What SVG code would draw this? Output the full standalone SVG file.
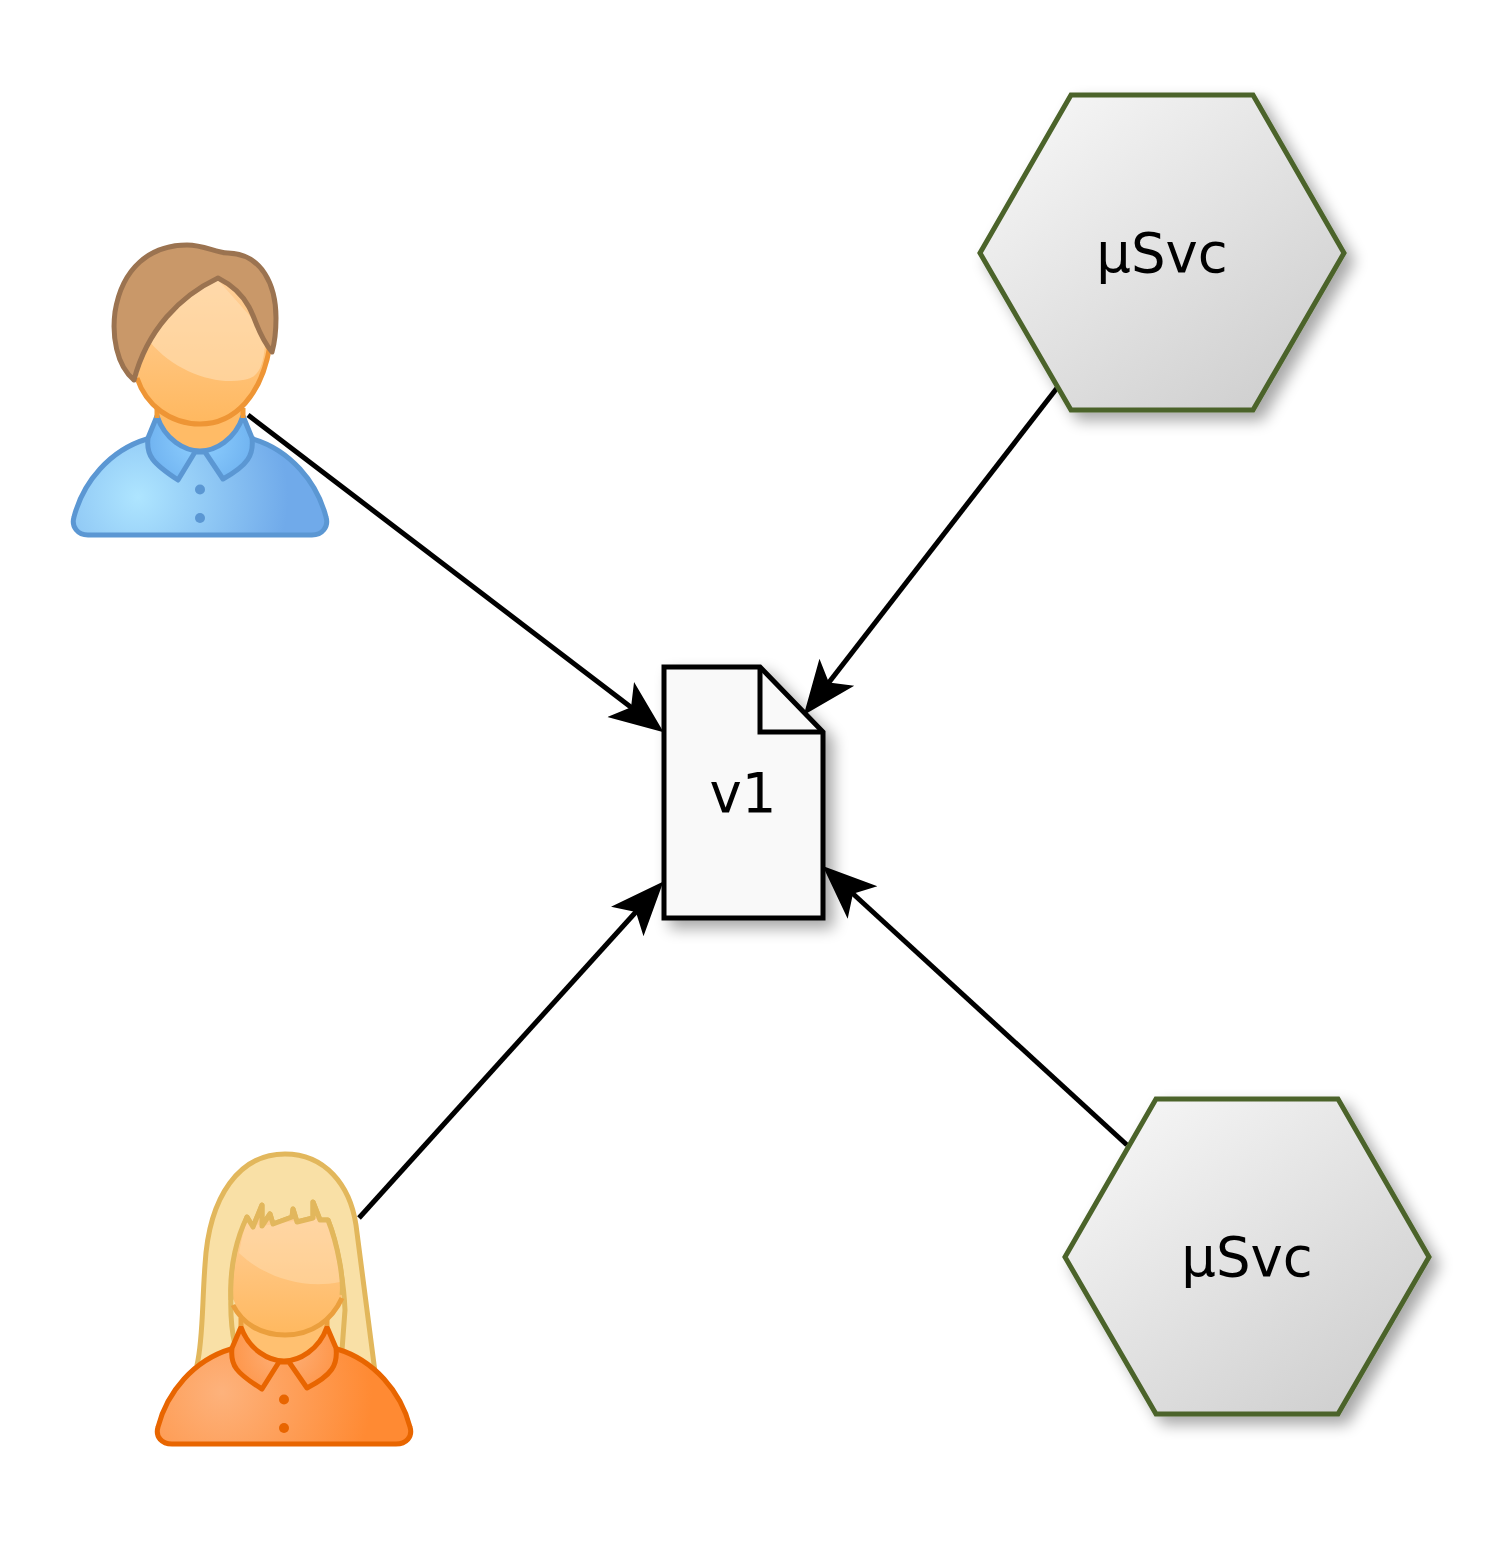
<svg xmlns="http://www.w3.org/2000/svg" width="1500" height="1554" viewBox="0 0 1500 1554">
<style>
text{font-family:"DejaVu Sans",sans-serif;font-size:54.500px;fill:#000;text-anchor:middle}
.hex{fill:url(#hexg);stroke:#4b6329;stroke-width:5;stroke-linejoin:miter}
.conn{fill:none;stroke:#000;stroke-width:5;marker-end:url(#arrow)}
.doc{fill:#f9f9f9;stroke:#000;stroke-width:5;stroke-linejoin:miter}
.p{stroke-width:5;stroke-linejoin:round}
</style>
<defs>
<linearGradient id="hexg" x1="0.060" y1="0" x2="0.940" y2="1"><stop offset="0" stop-color="#f8f8f8"/><stop offset="1" stop-color="#cccccc"/></linearGradient>
<linearGradient id="skin" x1="0" y1="0" x2="0" y2="1"><stop offset="0" stop-color="#ffd09a"/><stop offset="1" stop-color="#ffb85f"/></linearGradient>
<radialGradient id="shirtM" gradientUnits="userSpaceOnUse" cx="138" cy="497" r="150"><stop offset="0" stop-color="#aee5ff"/><stop offset="1" stop-color="#70aaea"/></radialGradient>
<radialGradient id="collarM" gradientUnits="userSpaceOnUse" cx="200" cy="440" r="55"><stop offset="0" stop-color="#8fd0ff"/><stop offset="1" stop-color="#6fb2f0"/></radialGradient>
<radialGradient id="shirtF" gradientUnits="userSpaceOnUse" cx="222" cy="1392" r="150"><stop offset="0" stop-color="#fdb27c"/><stop offset="1" stop-color="#ff8a33"/></radialGradient>
<radialGradient id="collarF" gradientUnits="userSpaceOnUse" cx="284" cy="1350" r="55"><stop offset="0" stop-color="#fdb27c"/><stop offset="1" stop-color="#fe9548"/></radialGradient>
<filter id="shadow" x="-15%" y="-15%" width="135%" height="135%"><feGaussianBlur in="SourceAlpha" stdDeviation="7.500"/><feOffset dx="8" dy="8"/><feComponentTransfer><feFuncA type="linear" slope="0.35"/></feComponentTransfer><feMerge><feMergeNode/><feMergeNode in="SourceGraphic"/></feMerge></filter>
<marker id="arrow" markerUnits="userSpaceOnUse" viewBox="0 0 56 46" markerWidth="56" markerHeight="46" refX="20" refY="23" orient="auto"><path d="M54,23 L0,1 L13,23 L0,45 Z" fill="#000"/></marker>
</defs>

<g id="connectors">
<path class="conn" d="M248,415 L636.600,711.600"/>
<path class="conn" d="M1057,388 L824.600,688"/>
<path class="conn" d="M359,1218 L640.600,906.700"/>
<path class="conn" d="M1127,1145 L847.800,889"/>
</g>

<g id="user-male" class="p">
<path d="M147,439 C110,450 83,482 74,517 C71,527 78,535 88,535 L312,535 C322,535 329,527 326,517 C317,482 290,450 253,439 Z" fill="url(#shirtM)" stroke="#5b97d3"/>
<circle cx="200" cy="489.500" r="5" fill="#5b97d3"/><circle cx="200" cy="518" r="5" fill="#5b97d3"/>
<path d="M157,405 L157,420 C165,440 185,449 200,449 C215,449 235,440 243,420 L243,405 Z" fill="#ffbb66"/>
<path d="M157,416 L148,438 C146,455 152,463 178,480 L195,452 L205,452 L223,479 C248,465 254,455 252,438 L243,416 C235,440 215,451 200,451 C185,451 165,440 157,416 Z" fill="url(#collarM)" stroke="#5b97d3"/>
<path d="M157,408 L157,418 M243,408 L243,418" fill="none" stroke="#f19a36"/>
<path d="M137,378 C146,405 170,424 200,424 C235,424 262,395 270,345 L262,315 L218,275 L150,325 Z" fill="url(#skin)"/>
<path d="M137,378 C146,405 170,424 200,424 C235,424 262,395 270,345" fill="none" stroke="#ee9535"/>
<path d="M150,342 C175,372 215,385 243,380 C258,378 263,368 265,345 L258,325 L218,280 L170,305 Z" fill="#ffe0b5" opacity="0.6"/>
<path d="M134,380 C116,365 112,335 115,312 C122,268 150,245 187,245 C205,245 215,253 228,253 C262,254 276,285 276,318 C276,332 274,345 272,352 C258,335 257,322 249,307 C242,294 230,284 218,278 C180,296 147,330 134,380 Z" fill="#c99869" stroke="#9b7350"/>
</g>

<g id="user-female" class="p">
<path d="M197,1365 C203,1340 202,1305 205,1265 C209,1195 240,1154 285,1154 C325,1154 350,1185 356,1225 L375,1372 Z" fill="#f9e0a6" stroke="#e2b75c"/>
<path d="M235,1345 C230,1325 230,1300 232,1275 C235,1250 241,1232 247,1217 L253,1227 L262,1205 L262,1226 L270,1214 L273,1224 L292,1217 L293,1209 L297,1222 L313,1218 L313,1202 L320,1220 L328,1220 C338,1245 344,1285 345,1310 L342,1350" fill="#f9e0a6" stroke="#e2b75c"/>
<path d="M231,1349 C194,1360 167,1392 158,1427 C155,1437 162,1444 172,1444 L396,1444 C406,1444 413,1437 410,1427 C401,1392 374,1360 337,1349 Z" fill="url(#shirtF)" stroke="#e86500"/>
<circle cx="284" cy="1399.500" r="5" fill="#e86500"/><circle cx="284" cy="1428" r="5" fill="#e86500"/>
<path d="M241,1315 L241,1330 C249,1350 269,1359 284,1359 C299,1359 319,1350 327,1330 L327,1315 Z" fill="#ffc070"/>
<path d="M241,1327 L232,1348 C230,1365 236,1373 262,1389 L279,1362 L289,1362 L307,1388 C332,1375 338,1365 336,1348 L327,1327 C319,1350 299,1361 284,1361 C269,1361 249,1350 241,1327 Z" fill="url(#collarF)" stroke="#e86500"/>
<path d="M241,1318 L241,1326 M327,1318 L327,1326" fill="none" stroke="#eb9f3d"/>
<path d="M233,1298 C240,1320 260,1335 285,1335 C312,1335 332,1320 342,1295 C341,1270 336,1240 327,1222 L320,1222 L313,1206 L313,1220 L297,1224 L293,1213 L292,1219 L273,1226 L270,1216 L262,1228 L262,1209 L253,1229 L247,1221 C238,1240 232,1270 233,1298 Z" fill="url(#skin)"/>
<path d="M233,1305 C242,1323 260,1335 285,1335 C312,1335 332,1320 342,1298" fill="none" stroke="#eb9f3d"/>
<path d="M239,1253 C262,1275 300,1290 340,1282 C338,1260 333,1238 327,1222 L313,1218 L262,1226 L247,1221 C243,1232 241,1242 239,1253 Z" fill="#ffe0b5" opacity="0.45"/>
<path d="M231,1300 C229,1265 238,1235 247,1217 L253,1227 L262,1205 L262,1226 L270,1214 L273,1224 L292,1217 L293,1209 L297,1222 L313,1218 L313,1202 L320,1220 L328,1220 C338,1245 344,1280 342,1295" fill="none" stroke="#e2b75c"/>
</g>

<g id="doc-v1">
<g filter="url(#shadow)"><path class="doc" d="M664,667 L760,667 L823,732 L823,918 L664,918 Z"/></g>
<path class="doc" style="fill:none" d="M760,667 L760,732 L823,732"/>
<text x="743" y="812">v1</text>
</g>

<g id="svc-top">
<polygon class="hex" filter="url(#shadow)" points="980,253 1071,95 1253,95 1344,253 1253,410 1071,410"/>
<text x="1162" y="272">µSvc</text>
</g>

<g id="svc-bottom">
<polygon class="hex" filter="url(#shadow)" points="1065,1257 1156,1099 1338,1099 1429,1257 1338,1414 1156,1414"/>
<text x="1247" y="1276">µSvc</text>
</g>
</svg>
